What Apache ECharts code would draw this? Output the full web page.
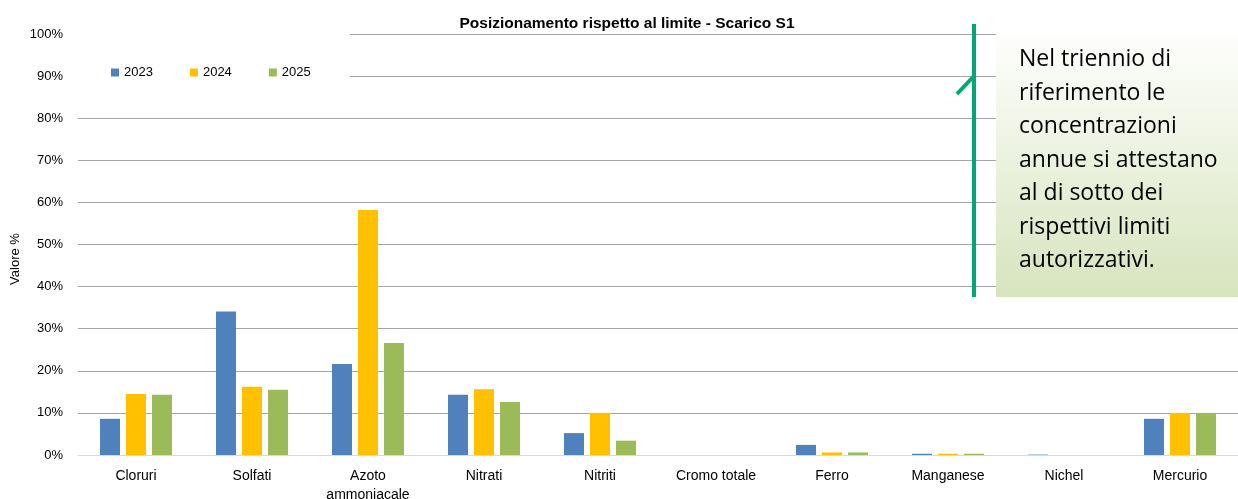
<!DOCTYPE html>
<html>
<head>
<meta charset="utf-8">
<script src="https://cdn.jsdelivr.net/npm/echarts@6/dist/echarts.min.js"></script>
<style>html,body{margin:0;padding:0;background:#fff}#c{width:1238px;height:499px}</style>
</head>
<body>
<div id="c"></div>
<script>
const categories = ['Cloruri', 'Solfati', 'Azoto\nammoniacale', 'Nitrati', 'Nitriti', 'Cromo totale', 'Ferro', 'Manganese', 'Nichel', 'Mercurio'];
const years = ['2023', '2024', '2025'];
const v2023 = [8.6, 34.1, 21.6, 14.3, 5.2, 0, 2.4, 0.3, 0.1, 8.6];
const v2024 = [14.5, 16.2, 58.2, 15.6, 10.0, 0, 0.6, 0.3, 0, 10.0];
const v2025 = [14.3, 15.5, 26.6, 12.6, 3.4, 0, 0.6, 0.3, 0, 10.0];
const yTicks = [0, 100, 10];
const titleText = 'Posizionamento rispetto al limite - Scarico S1';
const yName = 'Valore %';
const noteLines = ['Nel triennio di', 'riferimento le', 'concentrazioni', 'annue si attestano', 'al di sotto dei', 'rispettivi limiti', 'autorizzativi.'];

const colors = ['#4f81bd', '#ffc000', '#9bbb59'];
const FONT = 'Liberation Sans';
const chart = echarts.init(document.getElementById('c'));
const seriesData = [v2023, v2024, v2025];
chart.setOption({
  animation: false,
  textStyle: { fontFamily: FONT },
  title: { text: titleText, left: 622, textAlign: 'center', top: 11, textStyle: { fontSize: 15.5, fontWeight: 'bold', color: '#000', fontFamily: FONT } },
  legend: {
    data: years, left: 106, top: 61, itemWidth: 8, itemHeight: 8, itemGap: 37, z: 20,
    icon: 'rect', textStyle: { fontSize: 13, color: '#000', fontFamily: FONT }
  },
  grid: { left: 78, right: 0, top: 34, bottom: 44, outerBoundsMode: 'none', containLabel: false },
  xAxis: {
    type: 'category', data: categories,
    axisTick: { show: false },
    axisLine: { lineStyle: { color: '#d9d9d9', width: 1 } },
    axisLabel: { color: '#000', fontSize: 14, margin: 12, lineHeight: 19, interval: 0 }
  },
  yAxis: {
    type: 'value', min: yTicks[0], max: yTicks[1], interval: yTicks[2],
    axisLabel: { formatter: '{value}%', color: '#000', fontSize: 13, margin: 15 },
    splitLine: { lineStyle: { color: '#a6a6a6', width: 1 } },
    axisLine: { show: false }, axisTick: { show: false }
  },
  series: years.map((y, i) => ({
    name: y, type: 'bar', data: seriesData[i], barWidth: 20, barGap: '30%',
    itemStyle: { color: colors[i] }
  })),
  graphic: [
    { type: 'text', z: 30, x: 15, y: 259, rotation: Math.PI / 2,
      style: { text: yName, fontSize: 13, fill: '#000', fontFamily: FONT, align: 'center', verticalAlign: 'middle' } },
    { type: 'rect', z: 1, shape: { x: 78, y: 26, width: 272, height: 78 }, style: { fill: '#fff' } },
    { type: 'rect', z: 1, shape: { x: 996, y: 26, width: 242, height: 271 },
      style: { fill: { type: 'linear', x: 0, y: 0, x2: 0, y2: 1, colorStops: [{ offset: 0, color: '#ffffff' }, { offset: 1, color: '#d7e4bd' }] } } },
    { type: 'line', z: 30, shape: { x1: 974, y1: 24, x2: 974, y2: 297 }, style: { stroke: '#00a878', lineWidth: 4 } },
    { type: 'line', z: 30, shape: { x1: 957, y1: 94, x2: 974, y2: 76 }, style: { stroke: '#00a878', lineWidth: 4 } },
    { type: 'text', z: 30, left: 1019, top: 43,
      style: { text: noteLines.join('\n'), fontSize: 23, lineHeight: 33.5, fill: '#000', fontFamily: 'Open Sans' } }
  ]
});
</script>
</body>
</html>
